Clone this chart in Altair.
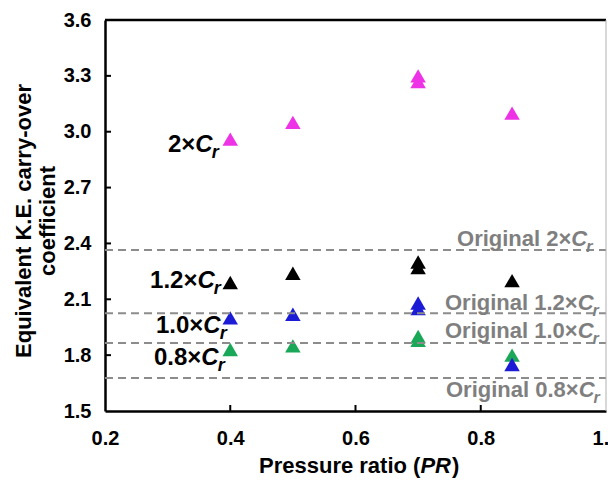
import altair as alt
import pandas as pd

# ---- data ----
pr = [0.4, 0.5, 0.7, 0.7, 0.85]
cr_2x = [2.96, 3.05, 3.30, 3.27, 3.10]
cr_12x = [2.19, 2.24, 2.30, 2.27, 2.20]
cr_10x = [2.00, 2.02, 2.08, 2.05, 1.75]
cr_08x = [1.83, 1.85, 1.90, 1.88, 1.80]

series_names = ["2×Cr", "1.2×Cr", "0.8×Cr", "1.0×Cr"]
series_colors = ["#ee33e6", "#000000", "#19a857", "#1c1cd6"]

orig_levels = [2.365, 2.025, 1.865, 1.677]

x_ticks = [0.2, 0.4, 0.6, 0.8, 1.0]
y_ticks = [1.5, 1.8, 2.1, 2.4, 2.7, 3.0, 3.3, 3.6]

FONT = "Liberation Sans"
W, H = 501, 391
XD = [0.2, 1.0]
YD = [1.5, 3.6]
XU = W / (XD[1] - XD[0])
YU = H / (YD[1] - YD[0])

xs = alt.Scale(domain=XD, nice=False, zero=False)
ys = alt.Scale(domain=YD, nice=False, zero=False)

x_axis = alt.Axis(values=x_ticks, format=".1f", title=None, ticks=False, tickSize=0,
                  grid=False, domainColor="black", domainWidth=2.5,
                  labelFont=FONT, labelFontSize=20, labelFontWeight="bold",
                  labelColor="black", labelPadding=17, labelFlush=False, labelOverlap=False)
y_axis = alt.Axis(values=y_ticks, format=".1f", title=None, ticks=False, tickSize=0,
                  grid=False, domainColor="black", domainWidth=2.5,
                  labelFont=FONT, labelFontSize=20, labelFontWeight="bold",
                  labelColor="black", labelPadding=14, labelFlush=False, labelOverlap=False)


def X(f):
    return alt.X(f, scale=xs, axis=x_axis)


def Y(f):
    return alt.Y(f, scale=ys, axis=y_axis)


# ---- points ----
vals = [cr_2x, cr_12x, cr_08x, cr_10x]
rows = []
for name, v in zip(series_names, vals):
    for x, y in zip(pr, v):
        rows.append({"pr": x, "k": y, "s": name})
df_pts = pd.DataFrame(rows)

points = alt.Chart(df_pts).mark_point(shape="triangle-up", filled=True, size=240, opacity=1).encode(
    x=X("pr:Q"),
    y=Y("k:Q"),
    color=alt.Color("s:N", scale=alt.Scale(domain=series_names, range=series_colors), legend=None),
)

# ---- frame and ticks ----
top_rule = alt.Chart(pd.DataFrame({"v": [YD[1]]})).mark_rule(color="black", strokeWidth=2.5).encode(
    y=Y("v:Q"), x=alt.value(0), x2=alt.value(W))
right_rule = alt.Chart(pd.DataFrame({"v": [XD[1]]})).mark_rule(color="#b0b0b0", strokeWidth=1).encode(
    x=X("v:Q"), y=alt.value(0), y2=alt.value(H))

yt = alt.Chart(pd.DataFrame({"v": y_ticks[1:-1]})).mark_rule(color="black", strokeWidth=2).encode(
    y=Y("v:Q"), x=alt.value(0), x2=alt.value(6))
xt = alt.Chart(pd.DataFrame({"v": x_ticks[1:-1]})).mark_rule(color="black", strokeWidth=2).encode(
    x=X("v:Q"), y=alt.value(H - 6), y2=alt.value(H))

dashes = alt.Chart(pd.DataFrame({"v": orig_levels})).mark_rule(
    color="#8c8c8c", strokeWidth=2, strokeDash=[8, 5]).encode(
    y=Y("v:Q"), x=alt.value(0), x2=alt.value(W))

# ---- annotations ----
AWID = {" ": 278, ".": 278, "×": 584, "C": 722, "r": 389, "O": 778, "i": 278, "g": 611,
        "n": 611, "a": 556, "l": 278}
for d in "0123456789":
    AWID[d] = 556


def tw(s, fs):
    return sum(AWID[c] for c in s) / 1000.0 * fs


ann_prefix = ["2×", "1.2×", "1.0×", "0.8×",
              "Original 2×", "Original 1.2×", "Original 1.0×", "Original 0.8×"]
ann_x = [0.3006, 0.2719, 0.2814, 0.2782, 0.7621, 0.7429, 0.7429, 0.7445]
ann_y = [2.891, 2.161, 1.919, 1.747, 2.386, 2.043, 1.892, 1.575]
ann_fs = [24, 24, 24, 24, 22, 22, 22, 22]
ann_col = ["black"] * 4 + ["#7f7f7f"] * 4

main_rows, c_rows, r_rows = [], [], []
for p, x0, y0, fs, col in zip(ann_prefix, ann_x, ann_y, ann_fs, ann_col):
    w1 = tw(p, fs)
    wc = tw("C", fs)
    main_rows.append({"x": x0, "y": y0, "t": p, "fs": fs, "col": col})
    c_rows.append({"x": x0 + w1 / XU, "y": y0, "t": "C", "fs": fs, "col": col})
    r_rows.append({"x": x0 + (w1 + wc - 1) / XU, "y": y0 - 6 / YU, "t": "r", "fs": round(fs * 0.75), "col": col})


def text_layer(rows, style):
    return alt.Chart(pd.DataFrame(rows)).mark_text(
        font=FONT, fontWeight="bold", fontStyle=style, align="left", baseline="alphabetic").encode(
        x=X("x:Q"),
        y=Y("y:Q"),
        text="t:N",
        size=alt.Size("fs:Q", scale=None, legend=None),
        color=alt.Color("col:N", scale=None, legend=None),
    )


ann_main = text_layer(main_rows, "normal")
ann_c = text_layer(c_rows, "italic")
ann_r = text_layer(r_rows, "italic")

# ---- axis titles ----
one = alt.Data(values=[{"a": 1}])
ytitle = alt.Chart(one).mark_text(
    text=["Equivalent K.E. carry-over", "coefficient"], font=FONT, fontWeight="bold", fontSize=22,
    angle=270, align="center", baseline="middle", lineHeight=24, color="black").encode(
    x=alt.value(24 - 105), y=alt.value(221 - 20))

xt_fs = 22
x0 = 259 - 105
w_a = 117.4 / 16 * xt_fs
w_b = (10.67 + 11.55) / 16 * xt_fs
xtitle_a = alt.Chart(one).mark_text(text="Pressure ratio (", font=FONT, fontWeight="bold", fontSize=xt_fs,
                                     align="left", baseline="alphabetic", color="black").encode(
    x=alt.value(x0), y=alt.value(473 - 20))
xtitle_b = alt.Chart(one).mark_text(text="PR", font=FONT, fontWeight="bold", fontStyle="italic", fontSize=xt_fs,
                                     align="left", baseline="alphabetic", color="black").encode(
    x=alt.value(x0 + w_a), y=alt.value(473 - 20))
xtitle_c = alt.Chart(one).mark_text(text=")", font=FONT, fontWeight="bold", fontSize=xt_fs,
                                     align="left", baseline="alphabetic", color="black").encode(
    x=alt.value(x0 + w_a + w_b + 1), y=alt.value(473 - 20))

chart = alt.layer(
    points, dashes, top_rule, right_rule, yt, xt,
    ann_main, ann_c, ann_r, ytitle, xtitle_a, xtitle_b, xtitle_c,
).properties(
    width=W, height=H,
    autosize=alt.AutoSizeParams(type="none"),
    padding={"left": 105, "top": 20, "right": 2, "bottom": 70},
    background="white",
).configure_view(stroke=None)

chart.save("out.html", embed_options={"renderer": "svg", "actions": False})
